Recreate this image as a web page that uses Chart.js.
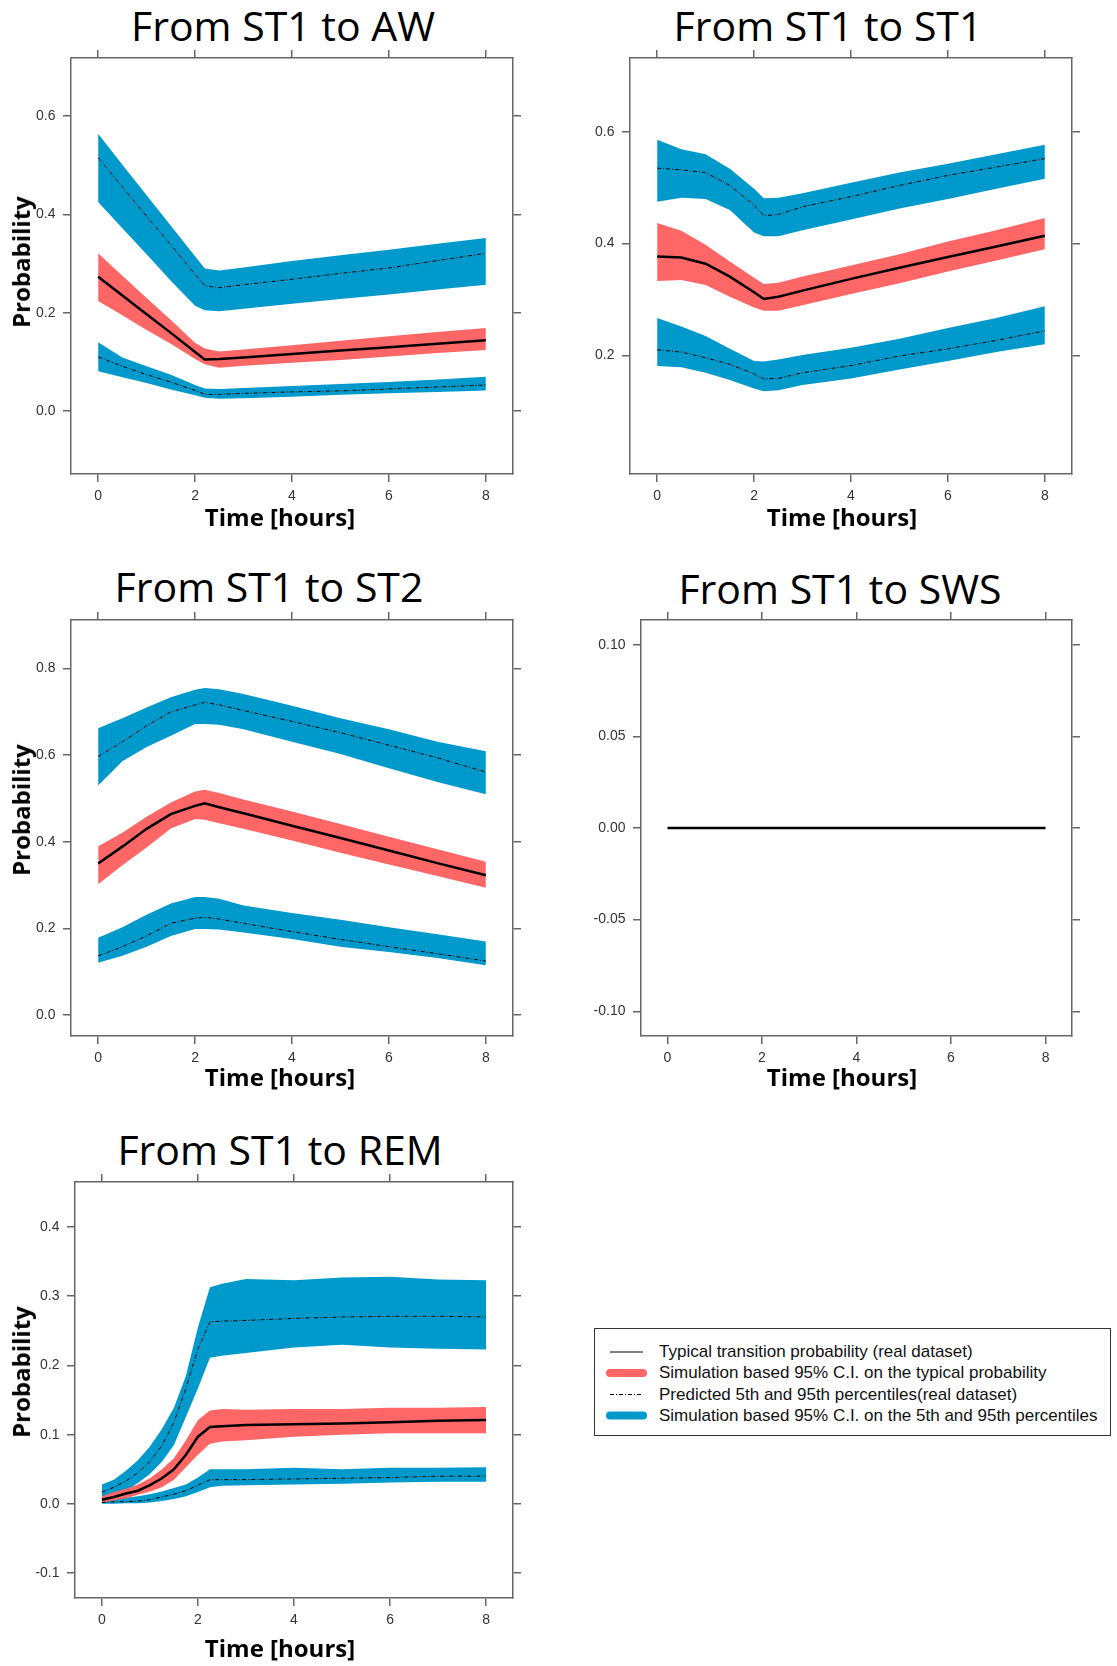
<!DOCTYPE html>
<html>
<head>
<meta charset="utf-8">
<title>Transition probabilities from ST1</title>
<script src="https://cdn.jsdelivr.net/npm/chart.js@4.4.0/dist/chart.umd.min.js"></script>
<style>
  body { margin: 0; background: #fff; }
  #page { position: relative; width: 1117px; height: 1666px; overflow: hidden; background: #fff; }
  canvas { position: absolute; }
  .title { position: absolute; font-family: 'Open Sans', sans-serif; font-size: 41px; line-height: 41px;
           white-space: nowrap; transform: translateX(-50%); color: #000; }
  .xlab { position: absolute; font-family: 'Open Sans', sans-serif; font-weight: 700; font-size: 24px;
          line-height: 24px; white-space: nowrap; transform: translateX(-50%); color: #000; }
  .ylab { position: absolute; font-family: 'Open Sans', sans-serif; font-weight: 700; font-size: 24px;
          line-height: 24px; white-space: nowrap; transform: translate(-50%, -50%) rotate(-90deg); color: #000; }
  #legend { position: absolute; left: 594px; top: 1328px; width: 517px; height: 108px;
            box-sizing: border-box; border: 1px solid #333; }
  .leg { position: absolute; left: 659px; font-family: 'Liberation Sans', Arial, sans-serif; font-size: 17px;
         line-height: 20px; white-space: nowrap; color: #111; }
</style>
</head>
<body>
<div id="page">
  <div class="title" style="left:283px;top:5px">From ST1 to AW</div>
  <div class="title" style="left:828px;top:5px">From ST1 to ST1</div>
  <div class="title" style="left:269px;top:566px">From ST1 to ST2</div>
  <div class="title" style="left:840px;top:568px">From ST1 to SWS</div>
  <div class="title" style="left:280px;top:1129px">From ST1 to REM</div>

  <canvas id="cAW"></canvas>
  <canvas id="cST1"></canvas>
  <canvas id="cST2"></canvas>
  <canvas id="cSWS"></canvas>
  <canvas id="cREM"></canvas>

  <div class="ylab" style="left:21px;top:262px">Probability</div>
  <div class="ylab" style="left:21px;top:810px">Probability</div>
  <div class="ylab" style="left:21px;top:1372px">Probability</div>

  <div class="xlab" style="left:280px;top:505px">Time [hours]</div>
  <div class="xlab" style="left:842px;top:505px">Time [hours]</div>
  <div class="xlab" style="left:280px;top:1065px">Time [hours]</div>
  <div class="xlab" style="left:842px;top:1065px">Time [hours]</div>
  <div class="xlab" style="left:280px;top:1636px">Time [hours]</div>

  <div id="legend"></div>
  <svg style="position:absolute;left:604px;top:1340px" width="46" height="84">
    <line x1="6" y1="12" x2="39" y2="12" stroke="#000" stroke-width="1"/>
    <line x1="6" y1="33" x2="39" y2="33" stroke="#ff6666" stroke-width="8" stroke-linecap="round"/>
    <line x1="6" y1="54.5" x2="39" y2="54.5" stroke="#000" stroke-width="1" stroke-dasharray="4 2 1 2"/>
    <line x1="6" y1="75.5" x2="39" y2="75.5" stroke="#0099cc" stroke-width="8" stroke-linecap="round"/>
  </svg>
  <div class="leg" style="top:1342px">Typical transition probability (real dataset)</div>
  <div class="leg" style="top:1363px">Simulation based 95% C.I. on the typical probability</div>
  <div class="leg" style="top:1384.5px">Predicted 5th and 95th percentiles(real dataset)</div>
  <div class="leg" style="top:1405.5px">Simulation based 95% C.I. on the 5th and 95th percentiles</div>
</div>

<script>
// time axis shared by every panel
const xTicks = [0, 2, 4, 6, 8];
const hours = [0, 0.5, 1, 1.5, 2, 2.2, 2.5, 3, 4, 5, 6, 7, 8];
const remHours = [0, 0.25, 0.5, 0.75, 1, 1.25, 1.5, 1.75, 2, 2.25, 2.5, 3, 4, 5, 6, 7, 8];

// ST1 -> AW
const awMean  = [0.273, 0.235, 0.197, 0.159, 0.120, 0.105, 0.106, 0.109, 0.116, 0.123, 0.130, 0.137, 0.144];
const awCiLo  = [0.224, 0.195, 0.165, 0.137, 0.106, 0.095, 0.088, 0.092, 0.098, 0.104, 0.111, 0.118, 0.124];
const awCiHi  = [0.321, 0.275, 0.230, 0.185, 0.139, 0.127, 0.121, 0.125, 0.134, 0.143, 0.152, 0.161, 0.169];
const awP95   = [0.515, 0.456, 0.396, 0.338, 0.278, 0.255, 0.251, 0.257, 0.268, 0.280, 0.291, 0.306, 0.321];
const awP95Lo = [0.425, 0.372, 0.319, 0.265, 0.214, 0.205, 0.203, 0.208, 0.218, 0.228, 0.237, 0.247, 0.257];
const awP95Hi = [0.564, 0.501, 0.439, 0.377, 0.315, 0.290, 0.286, 0.292, 0.305, 0.317, 0.328, 0.340, 0.352];
const awP5    = [0.110, 0.091, 0.074, 0.059, 0.042, 0.034, 0.034, 0.036, 0.039, 0.041, 0.045, 0.049, 0.053];
const awP5Lo  = [0.081, 0.069, 0.057, 0.044, 0.032, 0.027, 0.025, 0.026, 0.029, 0.033, 0.036, 0.039, 0.042];
const awP5Hi  = [0.140, 0.109, 0.091, 0.074, 0.053, 0.046, 0.045, 0.047, 0.051, 0.055, 0.059, 0.064, 0.070];
const awYTicks = [0, 0.2, 0.4, 0.6];

// ST1 -> ST1
const s1Mean  = [0.377, 0.375, 0.364, 0.341, 0.313, 0.301, 0.305, 0.316, 0.337, 0.357, 0.376, 0.395, 0.414];
const s1CiLo  = [0.333, 0.335, 0.326, 0.305, 0.286, 0.280, 0.280, 0.290, 0.310, 0.329, 0.350, 0.370, 0.390];
const s1CiHi  = [0.437, 0.423, 0.398, 0.368, 0.339, 0.328, 0.330, 0.341, 0.361, 0.381, 0.404, 0.424, 0.446];
const s1P95   = [0.535, 0.532, 0.527, 0.504, 0.469, 0.450, 0.452, 0.466, 0.484, 0.504, 0.522, 0.537, 0.552];
const s1P95Lo = [0.475, 0.482, 0.480, 0.460, 0.420, 0.413, 0.413, 0.424, 0.443, 0.463, 0.480, 0.498, 0.516];
const s1P95Hi = [0.586, 0.569, 0.560, 0.534, 0.498, 0.481, 0.482, 0.490, 0.509, 0.527, 0.543, 0.560, 0.577];
const s1P5    = [0.210, 0.206, 0.196, 0.184, 0.167, 0.158, 0.159, 0.169, 0.182, 0.199, 0.212, 0.227, 0.244];
const s1P5Lo  = [0.181, 0.179, 0.169, 0.156, 0.141, 0.136, 0.138, 0.147, 0.159, 0.175, 0.190, 0.206, 0.220];
const s1P5Hi  = [0.267, 0.252, 0.235, 0.212, 0.190, 0.189, 0.193, 0.201, 0.214, 0.230, 0.249, 0.267, 0.288];
const s1YTicks = [0.2, 0.4, 0.6];

// ST1 -> ST2
const s2Mean  = [0.350, 0.389, 0.430, 0.464, 0.483, 0.489, 0.480, 0.466, 0.437, 0.409, 0.380, 0.351, 0.323];
const s2CiLo  = [0.302, 0.346, 0.387, 0.431, 0.453, 0.451, 0.443, 0.430, 0.403, 0.375, 0.348, 0.321, 0.294];
const s2CiHi  = [0.390, 0.421, 0.458, 0.491, 0.516, 0.520, 0.513, 0.498, 0.470, 0.441, 0.412, 0.383, 0.354];
const s2P95   = [0.597, 0.631, 0.668, 0.700, 0.716, 0.722, 0.716, 0.703, 0.678, 0.652, 0.623, 0.594, 0.561];
const s2P95Lo = [0.530, 0.586, 0.619, 0.645, 0.672, 0.672, 0.670, 0.660, 0.631, 0.603, 0.570, 0.538, 0.510];
const s2P95Hi = [0.662, 0.685, 0.710, 0.734, 0.751, 0.755, 0.752, 0.741, 0.714, 0.685, 0.660, 0.631, 0.609];
const s2P5    = [0.137, 0.158, 0.183, 0.212, 0.224, 0.226, 0.222, 0.212, 0.193, 0.175, 0.158, 0.142, 0.125];
const s2P5Lo  = [0.121, 0.137, 0.158, 0.183, 0.199, 0.199, 0.198, 0.191, 0.176, 0.158, 0.146, 0.132, 0.115];
const s2P5Hi  = [0.179, 0.203, 0.232, 0.258, 0.273, 0.273, 0.269, 0.253, 0.236, 0.220, 0.203, 0.187, 0.170];
const s2YTicks = [0, 0.2, 0.4, 0.6, 0.8];

// ST1 -> SWS (never observed)
const swsHours = [0, 8];
const swsMean = [0, 0];
const swsYTicks = [-0.1, -0.05, 0, 0.05, 0.1];

// ST1 -> REM
const remMean  = [0.006, 0.010, 0.015, 0.019, 0.027, 0.037, 0.050, 0.071, 0.097, 0.111, 0.112, 0.114, 0.115, 0.116, 0.118, 0.120, 0.121];
const remCiLo  = [0.002, 0.005, 0.008, 0.013, 0.018, 0.024, 0.035, 0.053, 0.071, 0.087, 0.090, 0.092, 0.097, 0.100, 0.102, 0.102, 0.102];
const remCiHi  = [0.011, 0.017, 0.022, 0.028, 0.037, 0.050, 0.066, 0.092, 0.121, 0.135, 0.137, 0.136, 0.137, 0.137, 0.139, 0.139, 0.140];
const remP95   = [0.017, 0.024, 0.033, 0.045, 0.061, 0.084, 0.118, 0.167, 0.224, 0.263, 0.264, 0.265, 0.268, 0.270, 0.271, 0.271, 0.270];
const remP95Lo = [0.006, 0.013, 0.019, 0.030, 0.043, 0.061, 0.085, 0.126, 0.167, 0.211, 0.214, 0.218, 0.226, 0.230, 0.226, 0.224, 0.223];
const remP95Hi = [0.028, 0.035, 0.048, 0.063, 0.083, 0.108, 0.139, 0.185, 0.255, 0.313, 0.318, 0.325, 0.323, 0.327, 0.328, 0.324, 0.323];
const remP5    = [0.002, 0.003, 0.003, 0.004, 0.006, 0.010, 0.014, 0.019, 0.027, 0.035, 0.035, 0.035, 0.036, 0.037, 0.038, 0.040, 0.040];
const remP5Lo  = [0.000, 0.000, 0.001, 0.001, 0.002, 0.004, 0.007, 0.011, 0.017, 0.024, 0.026, 0.027, 0.028, 0.029, 0.031, 0.032, 0.032];
const remP5Hi  = [0.006, 0.007, 0.009, 0.011, 0.014, 0.018, 0.023, 0.028, 0.038, 0.050, 0.050, 0.050, 0.052, 0.050, 0.052, 0.052, 0.053];
const remYTicks = [-0.1, 0, 0.1, 0.2, 0.3, 0.4];

const BLUE = '#0099cc';
const RED = '#ff6666';
const FRAME = '#666';
const TICK_FONT = { family: "'Liberation Sans', Arial, sans-serif", size: 14 };

const pts = (xs, ys) => xs.map((x, i) => ({ x: x, y: ys[i] }));

function lineSet(xs, ys, width, dash) {
    return { data: pts(xs, ys), borderColor: '#000', borderWidth: width, borderDash: dash || [],
             pointRadius: 0, fill: false, tension: 0 };
}

// upper edge fills down to the lower edge (next dataset)
function bandSets(xs, lo, hi, color) {
    return [
        { data: pts(xs, hi), borderColor: 'rgba(0,0,0,0)', borderWidth: 0, backgroundColor: color,
          pointRadius: 0, fill: '+1', tension: 0 },
        { data: pts(xs, lo), borderColor: 'rgba(0,0,0,0)', borderWidth: 0,
          pointRadius: 0, fill: false, tension: 0 }
    ];
}

// fixed axis thickness so the plot box lands where we want it
function fixSize(prop, size) {
    return (scale) => {
        scale[prop] = size;
        scale.paddingTop = scale.paddingBottom = scale.paddingLeft = scale.paddingRight = 0;
    };
}

function frameAxis(position, tickValues, showLabels, fmt, size, extra) {
    const horizontal = position === 'top' || position === 'bottom';
    return Object.assign({
        type: 'linear',
        position: position,
        afterBuildTicks: (scale) => { scale.ticks = tickValues.map(v => ({ value: v })); },
        afterFit: fixSize(horizontal ? 'height' : 'width', size),
        ticks: {
            display: showLabels, font: TICK_FONT, color: '#333', autoSkip: false, maxRotation: 0,
            padding: horizontal ? 6 : 7.5, callback: fmt
        },
        grid: { drawOnChartArea: false, drawTicks: true, tickLength: 8, color: FRAME, lineWidth: 1.5 },
        border: { display: true, color: FRAME, width: 1.5 }
    }, extra);
}

const PAD = { left: 70, right: 14, top: 20, bottom: 40 };

function makePanel(id, box, yMin, yMax, yTicks, digits, datasets) {
    const canvas = document.getElementById(id);
    canvas.width = box.w + PAD.left + PAD.right;
    canvas.height = box.h + PAD.top + PAD.bottom;
    canvas.style.left = (box.x - PAD.left) + 'px';
    canvas.style.top = (box.y - PAD.top) + 'px';

    const xRange = { min: -0.56, max: 8.56 };
    const yRange = { min: yMin, max: yMax };
    const xFmt = v => v.toFixed(0);
    const yFmt = v => v.toFixed(digits);

    return new Chart(canvas.getContext('2d'), {
        type: 'line',
        data: { datasets: datasets },
        options: {
            responsive: false,
            animation: false,
            devicePixelRatio: 1,
            events: [],
            layout: { padding: 0 },
            plugins: { legend: { display: false }, tooltip: { enabled: false }, title: { display: false } },
            scales: {
                x: frameAxis('bottom', xTicks, true, xFmt, PAD.bottom, xRange),
                xTop: frameAxis('top', xTicks, false, xFmt, PAD.top, xRange),
                y: frameAxis('left', yTicks, true, yFmt, PAD.left, yRange),
                yRight: frameAxis('right', yTicks, false, yFmt, PAD.right, yRange)
            }
        }
    });
}

// lines first so they sit on top of the shaded bands
function transitionSets(xs, mean, ciLo, ciHi, p95, p95Lo, p95Hi, p5, p5Lo, p5Hi) {
    const dotDash = [4, 2, 1, 2];
    return [
        lineSet(xs, mean, 2.5),
        lineSet(xs, p95, 1, dotDash),
        lineSet(xs, p5, 1, dotDash),
        ...bandSets(xs, ciLo, ciHi, RED),
        ...bandSets(xs, p95Lo, p95Hi, BLUE),
        ...bandSets(xs, p5Lo, p5Hi, BLUE)
    ];
}

function drawAll() {
    makePanel('cAW', { x: 71, y: 58, w: 442, h: 416 }, -0.128, 0.718, awYTicks, 1,
        transitionSets(hours, awMean, awCiLo, awCiHi, awP95, awP95Lo, awP95Hi, awP5, awP5Lo, awP5Hi));

    makePanel('cST1', { x: 630, y: 58, w: 442, h: 416 }, -0.012, 0.732, s1YTicks, 1,
        transitionSets(hours, s1Mean, s1CiLo, s1CiHi, s1P95, s1P95Lo, s1P95Hi, s1P5, s1P5Lo, s1P5Hi));

    makePanel('cST2', { x: 71, y: 620, w: 442, h: 416 }, -0.048, 0.912, s2YTicks, 1,
        transitionSets(hours, s2Mean, s2CiLo, s2CiHi, s2P95, s2P95Lo, s2P95Hi, s2P5, s2P5Lo, s2P5Hi));

    makePanel('cSWS', { x: 641, y: 620, w: 431, h: 416 }, -0.1135, 0.1135, swsYTicks, 2,
        [lineSet(swsHours, swsMean, 2.5)]);

    makePanel('cREM', { x: 75, y: 1182, w: 438, h: 416 }, -0.136, 0.465, remYTicks, 1,
        transitionSets(remHours, remMean, remCiLo, remCiHi, remP95, remP95Lo, remP95Hi, remP5, remP5Lo, remP5Hi));
}

window.addEventListener('load', drawAll);
</script>
</body>
</html>
